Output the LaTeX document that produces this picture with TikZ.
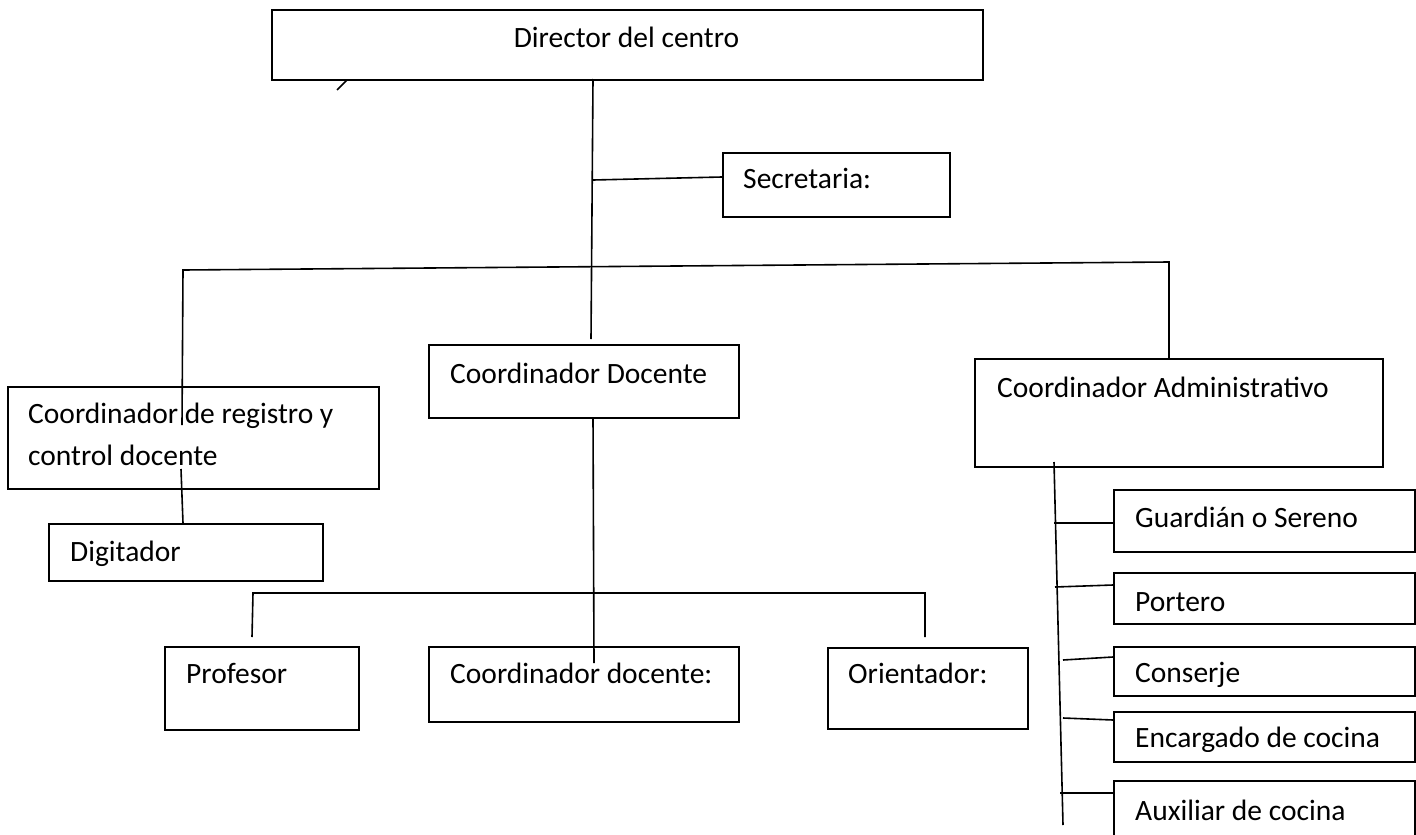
\documentclass[tikz,border=0pt]{standalone}
\usepackage{fontspec}
\setmainfont{Carlito}
\begin{document}
\begin{tikzpicture}[x=1pt,y=-1pt,
  box/.style={draw, line width=1.8pt, rectangle, inner sep=0pt, anchor=north west},
  lbl/.style={anchor=base west, inner sep=0pt, font=\fontsize{29.5}{36}\selectfont},
  conn/.style={line width=1.6pt}]
\useasboundingbox (0,0) rectangle (1416,835);
% boxes
\node[box, minimum width=711pt, minimum height=70pt]  (dir)  at (271,9)   {};
\node[box, minimum width=227pt, minimum height=64pt]  (sec)  at (722,152) {};
\node[box, minimum width=371pt, minimum height=102pt] (reg)  at (7,386)   {};
\node[box, minimum width=274pt, minimum height=57pt]  (dig)  at (48,523)  {};
\node[box, minimum width=310pt, minimum height=73pt]  (cd)   at (428,344) {};
\node[box, minimum width=408pt, minimum height=108pt] (ca)   at (974,358) {};
\node[box, minimum width=194pt, minimum height=83pt]  (prof) at (164,646) {};
\node[box, minimum width=310pt, minimum height=75pt]  (cdoc) at (428,646) {};
\node[box, minimum width=200pt, minimum height=81pt]  (ori)  at (827,647) {};
\node[box, minimum width=301pt, minimum height=62pt]  (gua)  at (1113,489) {};
\node[box, minimum width=301pt, minimum height=51pt]  (por)  at (1113,572) {};
\node[box, minimum width=301pt, minimum height=49pt]  (con)  at (1113,646) {};
\node[box, minimum width=301pt, minimum height=50pt]  (enc)  at (1113,711) {};
\node[box, minimum width=301pt, minimum height=70pt]  (aux)  at (1113,780) {};
% texts
\node[lbl, anchor=base] (dirt) at (626.5,47) {Director del centro};
\node[lbl] (sect)  at (743,188) {Secretaria:};
\node[lbl] (regt1) at (28,423)  {Coordinador de registro y};
\node[lbl] (regt2) at (28,465)  {control docente};
\node[lbl] (digt)  at (70,561)  {Digitador};
\node[lbl] (cdt)   at (450,383) {Coordinador Docente};
\node[lbl] (cat)   at (997,397) {Coordinador Administrativo};
\node[lbl] (proft) at (186,683) {Profesor};
\node[lbl] (cdoct) at (450,683) {Coordinador docente:};
\node[lbl] (orit)  at (848,683) {Orientador:};
\node[lbl] (guat)  at (1135,527) {Guardián o Sereno};
\node[lbl] (port)  at (1135,611) {Portero};
\node[lbl] (cont)  at (1135,682) {Conserje};
\begin{scope}
  \clip (1113,700) rectangle (1414,751);
  \node[lbl] (enct)  at (1135,747) {Encargado de cocina};
\end{scope}
\node[lbl] (auxt)  at (1135,820) {Auxiliar de cocina};
% junction coordinates
\coordinate (dtop) at (593,79);
\coordinate (dbot) at (591,339);
\coordinate (js)   at (593,180);
\coordinate (se)   at (722,177);
\coordinate (bl)   at (183,270);
\coordinate (br)   at (1169,262);
\coordinate (ble)  at (182,425);
\coordinate (bre)  at (1169,358);
\coordinate (dg1)  at (181,469);
\coordinate (dg2)  at (183,523);
\coordinate (c1)   at (593,417);
\coordinate (c2)   at (594,663);
\coordinate (ll)   at (253,593);
\coordinate (lr)   at (925,593);
\coordinate (lle)  at (252,637);
\coordinate (lre)  at (925,637);
\coordinate (a1)   at (1054,462);
\coordinate (a2)   at (1063,825);
\coordinate (g1)   at (1054,523);
\coordinate (g2)   at (1113,523);
\coordinate (p1)   at (1055,587);
\coordinate (p2)   at (1113,585);
\coordinate (k1)   at (1063,660);
\coordinate (k2)   at (1113,657);
\coordinate (e1)   at (1063,718);
\coordinate (e2)   at (1113,720);
\coordinate (x1)   at (1060,793);
\coordinate (x2)   at (1113,793);
\coordinate (s1)   at (337,90);
\coordinate (s2)   at (347,80);
% connectors
\draw[conn] (dtop) -- (dbot);
\draw[conn] (js) -- (se);
\draw[conn] (ble) -- (bl) -- (br) -- (bre);
\draw[conn] (dg1) -- (dg2);
\draw[conn] (c1) -- (c2);
\draw[conn] (lle) -- (ll) -- (lr) -- (lre);
\draw[conn] (a1) -- (a2);
\draw[conn] (g1) -- (g2);
\draw[conn] (p1) -- (p2);
\draw[conn] (k1) -- (k2);
\draw[conn] (e1) -- (e2);
\draw[conn] (x1) -- (x2);
\draw[conn] (s1) -- (s2);
\end{tikzpicture}
\end{document}
